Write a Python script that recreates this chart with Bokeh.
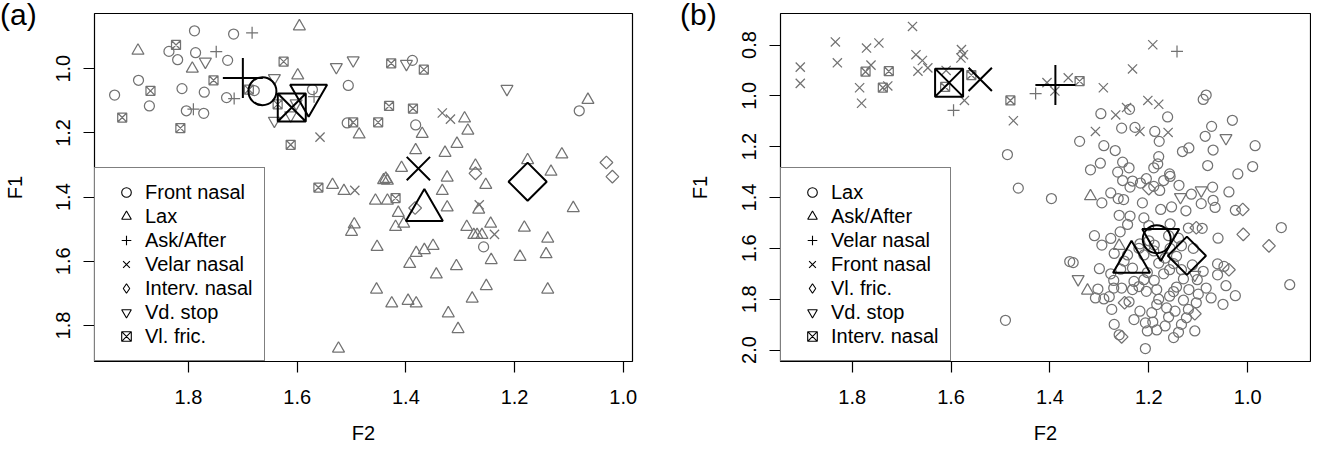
import math
from bokeh.plotting import figure
from bokeh.models import (Range1d, Legend, LegendItem, FixedTicker, PrintfTickFormatter,
                          GridBox, Div)
from bokeh.embed import file_html
from bokeh.resources import INLINE

FONT = "Liberation Sans"

# ---------------- Panel (a) data ----------------
a_categories = ["Front nasal", "Lax", "Ask/After", "Velar nasal", "Interv. nasal", "Vd. stop", "Vl. fric."]

a_front_nasal_f2 = [1.789, 1.717, 1.836, 1.787, 1.820, 1.728, 1.892, 1.812, 1.771, 1.936,
                    1.730, 1.872, 1.804, 1.772, 1.679, 1.572, 1.506, 1.508, 1.388, 1.382,
                    1.081, 1.257]
a_front_nasal_f1 = [0.882, 0.892, 0.946, 0.950, 0.972, 0.974, 1.036, 1.062, 1.073, 1.082,
                    1.090, 1.116, 1.131, 1.139, 1.068, 1.065, 1.052, 1.169, 0.974, 1.175,
                    1.131, 1.555]

a_lax_f2 = [1.596, 1.893, 1.793, 1.599, 1.486, 1.065, 1.370, 1.292, 1.286, 1.306,
            1.382, 1.328, 1.113, 1.176, 1.408, 1.272, 1.133, 1.535, 1.514, 1.441,
            1.434, 1.437, 1.324, 1.253, 1.333, 1.456, 1.434, 1.324, 1.414, 1.266,
            1.404, 1.419, 1.495, 1.500, 1.288, 1.244, 1.275, 1.269, 1.260, 1.182,
            1.139, 1.092, 1.453, 1.381, 1.366, 1.350, 1.393, 1.307, 1.344, 1.243,
            1.190, 1.142, 1.454, 1.426, 1.396, 1.381, 1.252, 1.278, 1.322, 1.304,
            1.139, 1.524]
a_lax_f1 = [0.868, 0.944, 1.000, 1.021, 1.205, 1.097, 1.203, 1.155, 1.193, 1.234,
            1.254, 1.262, 1.267, 1.285, 1.309, 1.302, 1.321, 1.362, 1.381, 1.347,
            1.349, 1.343, 1.339, 1.362, 1.381, 1.411, 1.411, 1.432, 1.449, 1.439,
            1.483, 1.493, 1.485, 1.508, 1.493, 1.483, 1.518, 1.518, 1.518, 1.495,
            1.529, 1.434, 1.555, 1.574, 1.565, 1.552, 1.608, 1.615, 1.641, 1.596,
            1.586, 1.578, 1.688, 1.731, 1.723, 1.731, 1.677, 1.716, 1.762, 1.811,
            1.688, 1.872]

a_ask_after_f2 = [1.683, 1.749, 1.791, 1.716, 1.569]
a_ask_after_f1 = [0.888, 0.947, 1.126, 1.093, 1.087]

a_velar_nasal_f2 = [1.558, 1.333, 1.318, 1.494, 1.265, 1.237]
a_velar_nasal_f1 = [1.213, 1.138, 1.157, 1.379, 1.424, 1.516]

a_interv_nasal_f2 = [1.031, 1.020, 1.272, 1.383]
a_interv_nasal_f1 = [1.292, 1.336, 1.326, 1.434]

a_vd_stop_f2 = [1.769, 1.642, 1.642, 1.528, 1.497, 1.612, 1.399, 1.214, 1.602]
a_vd_stop_f1 = [0.978, 1.029, 1.162, 0.995, 0.974, 1.145, 0.985, 1.063, 1.108]

a_vl_fric_f2 = [1.823, 1.870, 1.922, 1.754, 1.815, 1.625, 1.689, 1.636, 1.612, 1.497,
                1.427, 1.367, 1.431, 1.387, 1.451, 1.419, 1.561]
a_vl_fric_f1 = [0.926, 1.069, 1.152, 1.036, 1.185, 0.978, 1.065, 1.111, 1.237, 1.167,
                0.983, 1.003, 1.116, 1.124, 1.167, 1.403, 1.370]

a_mean_f2 = [1.664, 1.366, 1.700, 1.377, 1.176, 1.579, 1.610]
a_mean_f1 = [1.070, 1.441, 1.029, 1.311, 1.352, 1.083, 1.121]

# ---------------- Panel (b) data ----------------
b_categories = ["Lax", "Ask/After", "Velar nasal", "Front nasal", "Vl. fric.", "Vd. stop", "Interv. nasal"]

b_lax_f2 = [1.464, 1.397, 1.360, 1.490, 1.486, 1.084, 1.090, 1.297, 1.239, 1.162,
            1.031, 1.255, 1.228, 1.188, 1.073, 1.340, 1.291, 1.268, 1.179, 1.180,
            1.086, 1.132, 1.119, 1.070, 0.985, 1.298, 1.318, 1.253, 1.240, 1.190,
            1.182, 1.081, 0.990, 1.020, 1.263, 1.158, 1.253, 1.233, 1.217, 1.205,
            1.190, 1.170, 1.157, 1.139, 1.178, 1.238, 1.277, 1.262, 1.251, 1.295,
            1.213, 1.176, 1.154, 1.125, 1.114, 1.094, 1.071, 1.070, 1.066, 1.038,
            1.025, 1.238, 1.210, 1.157, 1.092, 0.932, 1.243, 1.258, 1.277, 1.295,
            1.218, 1.353, 1.277, 1.257, 1.271, 1.303, 1.308, 1.291, 1.271, 1.255,
            1.233, 1.230, 1.210, 1.189, 1.205, 1.184, 1.158, 1.144, 1.130, 1.119,
            1.104, 1.084, 1.074, 1.061, 1.048, 1.061, 1.044, 1.025, 1.112, 1.134,
            1.158, 1.180, 1.203, 1.233, 1.243, 1.210, 1.167, 1.144, 1.134, 1.157,
            1.189, 1.275, 1.270, 1.218, 1.194, 1.207, 1.192, 1.203, 1.184, 1.167,
            1.150, 1.147, 1.134, 1.124, 1.107, 1.207, 1.164, 1.184, 1.102, 0.915,
            1.160, 1.200, 1.140, 1.220, 1.190, 1.150, 1.250, 1.270, 1.130, 1.170,
            1.220, 1.150, 1.100, 1.180, 1.240, 1.160, 1.230, 1.120, 1.280, 1.090,
            1.050, 1.260, 1.140, 1.120, 1.260, 1.200, 1.310, 1.060, 1.110, 1.300]
b_lax_f1 = [1.363, 1.404, 1.652, 1.883, 1.231, 0.997, 1.014, 1.070, 1.053, 1.083,
            1.096, 1.127, 1.124, 1.140, 1.120, 1.179, 1.196, 1.215, 1.179, 1.239,
            1.159, 1.219, 1.205, 1.213, 1.196, 1.265, 1.291, 1.261, 1.283, 1.283,
            1.268, 1.274, 1.278, 1.307, 1.300, 1.307, 1.333, 1.335, 1.343, 1.326,
            1.356, 1.333, 1.317, 1.352, 1.372, 1.359, 1.382, 1.404, 1.408, 1.421,
            1.421, 1.447, 1.437, 1.452, 1.387, 1.424, 1.359, 1.411, 1.439, 1.378,
            1.450, 1.473, 1.480, 1.504, 1.521, 1.518, 1.506, 1.535, 1.561, 1.587,
            1.582, 1.656, 1.700, 1.682, 1.726, 1.760, 1.795, 1.799, 1.756, 1.756,
            1.762, 1.730, 1.723, 1.726, 1.769, 1.762, 1.788, 1.752, 1.804, 1.762,
            1.814, 1.756, 1.795, 1.704, 1.671, 1.661, 1.747, 1.786, 1.665, 1.684,
            1.684, 1.658, 1.695, 1.678, 1.626, 1.626, 1.638, 1.631, 1.590, 1.600,
            1.587, 1.840, 1.899, 1.847, 1.853, 1.893, 1.890, 1.925, 1.921, 1.905,
            1.951, 1.847, 1.899, 1.873, 1.925, 1.994, 1.834, 1.821, 1.723, 1.743,
            1.550, 1.570, 1.560, 1.600, 1.610, 1.660, 1.650, 1.620, 1.720, 1.700,
            1.750, 1.770, 1.780, 1.800, 1.810, 1.870, 1.880, 1.840, 1.790, 1.690,
            1.820, 1.940, 1.930, 1.520, 1.470, 1.510, 1.550, 1.560, 1.600, 1.680]

b_ask_after_f2 = [1.318, 1.260, 1.324]
b_ask_after_f1 = [1.395, 1.590, 1.766]

b_velar_nasal_f2 = [1.595, 1.429, 1.143]
b_velar_nasal_f1 = [1.057, 0.991, 0.825]

b_front_nasal_f2 = [1.678, 1.834, 1.771, 1.746, 1.905, 1.905, 1.830, 1.762, 1.785, 1.781,
                    1.728, 1.671, 1.667, 1.658, 1.647, 1.579, 1.575, 1.580, 1.610, 1.573,
                    1.474, 1.406, 1.363, 1.390, 1.192, 1.233, 1.292, 1.202, 1.180, 1.245,
                    1.267, 1.308, 1.218, 1.161]
b_front_nasal_f1 = [0.727, 0.788, 0.812, 0.792, 0.887, 0.951, 0.870, 0.879, 0.968, 1.029,
                    0.961, 0.838, 0.903, 0.861, 0.890, 0.818, 0.838, 0.851, 0.900, 1.018,
                    1.098, 0.948, 0.929, 0.981, 0.799, 0.894, 0.968, 1.018, 1.033, 1.046,
                    1.075, 1.140, 1.140, 1.144]

b_vl_fric_f2 = [1.010, 1.009, 0.957, 1.104, 1.038, 1.200, 1.249, 1.107, 1.255]
b_vl_fric_f1 = [1.447, 1.545, 1.590, 1.519, 1.684, 1.365, 1.814, 1.857, 1.948]

b_vd_stop_f2 = [1.044, 1.136, 1.094, 1.343, 1.107]
b_vd_stop_f1 = [1.166, 1.398, 1.372, 1.721, 1.704]

b_interv_nasal_f2 = [1.773, 1.726, 1.738, 1.559, 1.612, 1.480, 1.340]
b_interv_nasal_f1 = [0.905, 0.903, 0.968, 0.918, 0.965, 1.018, 0.942]

b_mean_f2 = [1.184, 1.235, 1.389, 1.541, 1.123, 1.176, 1.604]
b_mean_f1 = [1.564, 1.654, 0.957, 0.935, 1.629, 1.566, 0.948]

# axis ticks
a_xticks = [1.0, 1.2, 1.4, 1.6, 1.8]
a_yticks = [1.0, 1.2, 1.4, 1.6, 1.8]
b_xticks = [1.0, 1.2, 1.4, 1.6, 1.8]
b_yticks = [0.8, 1.0, 1.2, 1.4, 1.6, 1.8, 2.0]

# ---------------- styling (R pch 1..7) ----------------
MARKERS = ["circle", "triangle", "cross", "x", "square", "inverted_triangle", "square_x"]
LEGEND_MARKERS = ["circle", "triangle", "cross", "x", "diamond", "inverted_triangle", "square_x"]
SMALL = [10, 12, 12, 13, 9, 12, 9]
LEGEND_SIZE = [10, 12, 12, 13, 13, 12, 9]
BIG = [28, 37, 40, 33, 27, 37, 28]
ANGLE = [0, 0, 0, 0, math.pi / 4, 0, 0]
GREY = "#727272"
NAN = float("nan")


def make_panel(cats, series, mean_f2, mean_f1, xr, yr, xticks, yticks,
               width, border_left, border_right, ylab_standoff):
    p = figure(width=width, height=446,
               x_range=Range1d(*xr), y_range=Range1d(*yr),
               output_backend="svg", toolbar_location=None,
               min_border_left=border_left, min_border_right=border_right,
               min_border_top=13, min_border_bottom=83)
    p.grid.visible = False
    p.background_fill_color = "white"
    p.border_fill_color = "white"
    p.outline_line_color = "black"
    p.outline_line_width = 1.2
    p.outline_line_alpha = 1.0

    for i, (f2, f1) in enumerate(series):
        p.scatter(x=f2, y=f1, marker=MARKERS[i], size=SMALL[i], angle=ANGLE[i],
                  fill_color=None, line_color=GREY, line_width=1.25)
    for i in range(len(cats)):
        p.scatter(x=[mean_f2[i]], y=[mean_f1[i]], marker=MARKERS[i], size=BIG[i],
                  angle=ANGLE[i], fill_color=None, line_color="black", line_width=2)

    items = []
    for i, c in enumerate(cats):
        # legend-only renderer (a single NaN point is never drawn in the plot)
        r = p.scatter(x=[NAN], y=[NAN], marker=LEGEND_MARKERS[i], size=LEGEND_SIZE[i],
                      fill_color=None, line_color="black", line_width=1.1)
        items.append(LegendItem(label=c, renderers=[r]))
    legend = Legend(items=items, location="bottom_left", margin=0, padding=12,
                    spacing=0, glyph_width=38, glyph_height=24, label_height=24,
                    label_standoff=0, label_text_font=FONT, label_text_font_size="20px",
                    label_text_color="black",
                    border_line_color="black", border_line_width=1.2,
                    background_fill_color="white", background_fill_alpha=1.0)
    p.add_layout(legend)

    p.xaxis.ticker = FixedTicker(ticks=xticks)
    p.yaxis.ticker = FixedTicker(ticks=yticks)
    p.xaxis.formatter = PrintfTickFormatter(format="%.1f")
    p.yaxis.formatter = PrintfTickFormatter(format="%.1f")
    for ax in (p.xaxis[0], p.yaxis[0]):
        ax.axis_line_color = None
        ax.major_tick_out = 11
        ax.major_tick_in = 0
        ax.minor_tick_out = 0
        ax.minor_tick_in = 0
        ax.major_tick_line_color = "black"
        ax.major_tick_line_width = 1.2
        ax.major_label_text_font = FONT
        ax.major_label_text_font_size = "20px"
        ax.major_label_text_color = "black"
        ax.axis_label_text_font = FONT
        ax.axis_label_text_font_size = "20px"
        ax.axis_label_text_font_style = "normal"
        ax.axis_label_text_color = "black"
    p.xaxis.axis_label = "F2"
    p.yaxis.axis_label = "F1"
    p.xaxis.major_label_standoff = 17
    p.xaxis.axis_label_standoff = 15
    p.yaxis.major_label_standoff = 13
    p.yaxis.axis_label_standoff = ylab_standoff
    p.yaxis.major_label_orientation = "vertical"
    return p


a_series = [(a_front_nasal_f2, a_front_nasal_f1), (a_lax_f2, a_lax_f1),
            (a_ask_after_f2, a_ask_after_f1), (a_velar_nasal_f2, a_velar_nasal_f1),
            (a_interv_nasal_f2, a_interv_nasal_f1), (a_vd_stop_f2, a_vd_stop_f1),
            (a_vl_fric_f2, a_vl_fric_f1)]
b_series = [(b_lax_f2, b_lax_f1), (b_ask_after_f2, b_ask_after_f1),
            (b_velar_nasal_f2, b_velar_nasal_f1), (b_front_nasal_f2, b_front_nasal_f1),
            (b_vl_fric_f2, b_vl_fric_f1), (b_vd_stop_f2, b_vd_stop_f1),
            (b_interv_nasal_f2, b_interv_nasal_f1)]

pa = make_panel(a_categories, a_series, a_mean_f2, a_mean_f1,
                (1.973, 0.983), (1.912, 0.828), a_xticks, a_yticks,
                680, 94, 48, 28)
pb = make_panel(b_categories, b_series, b_mean_f2, b_mean_f1,
                (1.945, 0.873), (2.045, 0.676), b_xticks, b_yticks,
                631, 100, 1, 29)


def tag(text):
    html = ("<span style=\"font-family:'Liberation Sans',Arial,sans-serif;"
            "font-size:30px;line-height:30px;color:black;white-space:nowrap;\">"
            + text + "</span>")
    return Div(text=html, width=46, height=34, margin=0)


layout = GridBox(children=[(pa, 0, 0), (pb, 0, 1), (tag("(a)"), 0, 0), (tag("(b)"), 0, 1)],
                 spacing=0)
open("out.html", "w").write(file_html(layout, INLINE))
